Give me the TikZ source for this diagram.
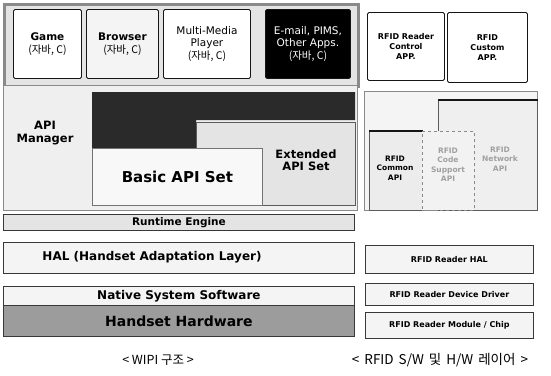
\documentclass[tikz,border=0pt]{standalone}
\usepackage{fontspec}
\setmainfont{DejaVu Sans}
\newfontfamily\krfont{Noto Sans CJK KR}
\usetikzlibrary{positioning}
\definecolor{ink}{HTML}{151515}
\definecolor{frame}{HTML}{8A8A8A}
\definecolor{panel}{HTML}{E4E4E4}
\definecolor{paper}{HTML}{F4F4F4}
\definecolor{darkblock}{HTML}{2A2A2A}
\definecolor{hwgray}{HTML}{9C9C9C}
\definecolor{faint}{HTML}{A0A0A0}
\tikzset{
  panel/.style={draw=frame,fill=panel,line width=#1,anchor=north west,inner sep=0pt},
  appbox/.style={draw=ink,fill=#1,line width=0.9pt,rounded corners=1.5pt,anchor=north west,inner sep=0pt,align=center,font=\fontsize{10.5}{12.5}\selectfont},
  layer/.style={draw=ink!85,fill=#1,line width=0.8pt,anchor=north west,inner sep=0pt,align=center,font=\bfseries\fontsize{11}{13}\selectfont},
  tag/.style={inner sep=0pt,align=center,font=\bfseries\fontsize{#1}{#1}\selectfont},
  small/.style={inner sep=0pt,align=center,font=\bfseries\fontsize{7.5}{9.5}\selectfont},
  caption/.style={inner sep=0pt,font=\krfont\fontsize{12.5}{14}\selectfont}
}
\begin{document}
\begin{tikzpicture}[x=1pt,y=-1pt]
    \useasboundingbox[fill=white] (0,0) rectangle (551,375);

    \node[panel=2.6pt,minimum width=354pt,minimum height=82pt] (apps) at (3,3) {};
    \node[appbox=white,minimum width=68pt,minimum height=69pt] (game) at (13,9) {\textbf{Game}\\{\krfont(자바, C)}};
    \node[appbox=paper,minimum width=72pt,minimum height=69pt] (browser) at (86,9) {\textbf{Browser}\\{\krfont(자바, C)}};
    \node[appbox=white,minimum width=87pt,minimum height=69pt] (player) at (163,9) {Multi-Media\\Player\\{\krfont(자바, C)}};
    \node[appbox=black,text=white,minimum width=85pt,minimum height=69pt] (email) at (265,9) {E-mail, PIMS,\\Other Apps.\\{\krfont(자바, C)}};

    \node[panel=1.4pt,fill=panel!60!white,minimum width=354pt,minimum height=125pt] (api) at (3,85) {};
    \fill[darkblock] (92,92) -- (355,92) -- (355,120) -- (196,120) -- (196,148) -- (92,148) -- cycle;
    \filldraw[fill=panel,draw=ink!70,line width=0.6pt] (196,122) -- (355,122) -- (355,205) -- (262,205) -- (262,148) -- (196,148) -- cycle;
    \node[layer=paper!60!white,draw=ink!60,minimum width=170pt,minimum height=57pt,font=\bfseries\fontsize{15}{17}\selectfont] (basic) at (92,148) {Basic API Set};
    \node[tag=11.5] (manager) at (45,133) {API\\[1pt]Manager};
    \node[tag=11.5] (extended) at (306,160) {Extended\\[1pt]API Set};

    \node[layer=panel,minimum width=351pt,minimum height=16pt,font=\bfseries\fontsize{10.5}{12}\selectfont] (runtime) at (3,214) {Runtime Engine};
    \node[layer=paper,minimum width=351pt,minimum height=31pt] (hal) at (3,242) {};
    \node[tag=12] (hallabel) at (152,257) {HAL (Handset Adaptation Layer)};
    \node[layer=paper,minimum width=351pt,minimum height=19pt,font=\bfseries\fontsize{12}{13}\selectfont] (native) at (3,286) {Native System Software};
    \node[layer=hwgray,minimum width=351pt,minimum height=31pt,font=\bfseries\fontsize{14}{16}\selectfont] (hardware) at (3,305) {Handset Hardware};

    \node[appbox=white,minimum width=77pt,minimum height=68pt,font=\bfseries\fontsize{8}{10}\selectfont] (control) at (367,12) {RFID Reader\\Control\\APP.};
    \node[appbox=white,minimum width=80pt,minimum height=70pt,font=\bfseries\fontsize{8}{10}\selectfont] (custom) at (447,12) {RFID\\Custom\\APP.};

    \node[panel=1.2pt,fill=paper,minimum width=173pt,minimum height=119pt] (rapi) at (364,91) {};
    \node[layer=panel!60!white,draw=ink!70,line width=0.6pt,minimum width=99pt,minimum height=110pt] (rext) at (438,100) {};
    \draw[ink,line width=1.4pt] (rext.north west) -- (rext.north east);
    \node[layer=panel!70!white,draw=ink!70,line width=0.6pt,minimum width=53pt,minimum height=79pt] (common) at (369,131) {};
    \draw[ink,line width=1.4pt] (common.north west) -- (common.north east);
    \node[small] (commonlabel) at (395,168) {RFID\\Common\\API};
    \node[layer=panel!50!white,draw=ink!50,dashed,line width=0.6pt,minimum width=52pt,minimum height=79pt] (codesupport) at (422,131) {};
    \node[small,text=faint] (codelabel) at (448,165) {RFID\\Code\\Support\\API};
    \node[small,text=faint] (networklabel) at (500,159) {RFID\\Network\\API};

    \node[layer=paper,minimum width=168pt,minimum height=28pt,font=\bfseries\fontsize{8}{10}\selectfont] (readerhal) at (365,245) {RFID Reader HAL};
    \node[layer=paper,minimum width=168pt,minimum height=22pt,font=\bfseries\fontsize{8}{10}\selectfont] (driver) at (365,283) {RFID Reader Device Driver};
    \node[layer=paper,minimum width=168pt,minimum height=26pt,font=\bfseries\fontsize{8}{10}\selectfont] (chip) at (365,312) {RFID Reader Module / Chip};

    \node[caption] (wipicap) at (158,360) {< WIPI 구조 >};
    \node[caption,font=\krfont\fontsize{13.5}{15}\selectfont] (rfidcap) at (440,360) {<\hspace{5pt}RFID\hspace{5pt}S/W\hspace{5pt}및\hspace{5pt}H/W\hspace{5pt}레이어\hspace{5pt}>};
  \end{tikzpicture}
\end{document}
